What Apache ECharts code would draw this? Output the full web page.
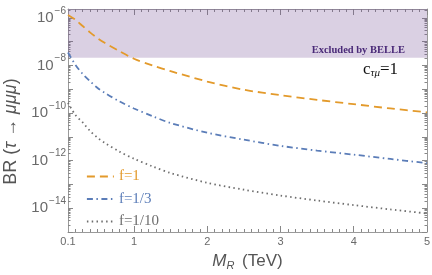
<!DOCTYPE html>
<html><head><meta charset="utf-8">
<script src="https://cdn.jsdelivr.net/npm/echarts@6/dist/echarts.min.js"></script>
<style>html,body{margin:0;padding:0;background:#fff}#c{width:432px;height:275px}</style>
</head><body><div id="c"></div>
<script>
// ---- data ----
const M_TEV = [0.1,0.2,0.3,0.4,0.5,0.6,0.8,1.0,1.25,1.5,2,2.5,3,3.5,4,4.5,5];
const BR_F1 = [1.32e-6,8.3e-7,4.5e-7,2.45e-7,1.41e-7,8.9e-8,4.0e-8,1.9e-8,1.0e-8,5.75e-9,2.1e-9,9.5e-10,5.6e-10,3.55e-10,2.35e-10,1.55e-10,1.07e-10];
const BR_F13 = [3.47e-8,1.07e-8,4.37e-9,2.19e-9,1.15e-9,7.1e-10,3.1e-10,1.55e-10,7.4e-11,3.8e-11,1.48e-11,7.6e-12,4.17e-12,2.63e-12,1.78e-12,1.17e-12,7.8e-13];
const BR_F110 = [2.69e-10,8.3e-11,4.0e-11,1.78e-11,9.3e-12,5.6e-12,2.4e-12,1.2e-12,5.75e-13,3.0e-13,1.17e-13,6.0e-14,3.4e-14,2.1e-14,1.35e-14,8.9e-15,6.0e-15];
const SERIES_NAMES = ['f=1','f=1/3','f=1/10'];
const BELLE_LIMIT = 2.1e-8;
const X_MIN = 0.1, X_MAX = 5;
const Y_MIN = 1e-15, Y_MAX = 2.34e-6;
const X_LABELS = [0.1,1,2,3,4,5];
const X_MAJOR = [1,2,3,4,5];
const Y_LABEL_EXP = [-6,-8,-10,-12,-14];
const Y_DECADES = [-15,-14,-13,-12,-11,-10,-9,-8,-7,-6];

// ---- derived tick positions ----
const LOG_MIN = Math.log10(Y_MIN), LOG_MAX = Math.log10(Y_MAX);
const X_MINOR = [];
for (let i = 2; i <= 50; i++) { if (i % 10 !== 0) X_MINOR.push(i / 10); }
const Y_MINOR = [];
Y_DECADES.forEach(e => { for (let k = 2; k <= 9; k++) { const v = e + Math.log10(k); if (v < LOG_MAX) Y_MINOR.push(v); } });

const ORANGE = '#E39A2B', BLUE = '#5B7DB8', GRAY = '#6E6E6E';
const AX = '#9a9a9a', TK = '#888888', LBL = '#6a6a6a';
const SANS = 'Liberation Sans', SERIF = 'Liberation Serif';
const DASH_F1 = [8, 5], DASH_F13 = [6, 3.5, 1.5, 3.5], DASH_F110 = [1.5, 3.3];

const toPairs = arr => M_TEV.map((m, i) => [m, arr[i]]);

function xHelper(pos, vals, len, line) {
  return { type: 'value', position: pos, min: X_MIN, max: X_MAX,
    axisLine: { show: line, onZero: false, lineStyle: { color: AX } },
    axisTick: { show: true, inside: true, length: len, customValues: vals, lineStyle: { color: TK } },
    axisLabel: { show: false }, splitLine: { show: false } };
}
function yHelper(pos, vals, len, line) {
  return { type: 'value', position: pos, min: LOG_MIN, max: LOG_MAX,
    axisLine: { show: line, onZero: false, lineStyle: { color: AX } },
    axisTick: { show: true, inside: true, length: len, customValues: vals, lineStyle: { color: TK } },
    axisLabel: { show: false }, splitLine: { show: false } };
}

const chart = echarts.init(document.getElementById('c'), null, { renderer: 'canvas' });
chart.setOption({
  animation: false,
  grid: { left: 68, right: 5, top: 9, bottom: 43, containLabel: false, outerBoundsMode: 'none' },
  xAxis: [
    { type: 'value', position: 'bottom', min: X_MIN, max: X_MAX,
      name: '{i|M}{s|R}{a| (TeV)}', nameLocation: 'middle', nameGap: 20,
      nameTextStyle: { color: '#555', fontFamily: SANS, fontSize: 17,
        rich: { i: { fontStyle: 'italic', fontSize: 17, color: '#555', fontFamily: SANS, verticalAlign: 'middle' },
                s: { fontStyle: 'italic', fontSize: 11, color: '#555', fontFamily: SANS, padding: [8, 3, 0, 0], verticalAlign: 'middle' },
                a: { fontSize: 17, color: '#555', fontFamily: SANS, verticalAlign: 'middle' } } },
      axisLine: { show: true, onZero: false, lineStyle: { color: AX } },
      axisTick: { show: true, inside: true, length: 6, customValues: X_MAJOR, lineStyle: { color: TK } },
      axisLabel: { customValues: X_LABELS, color: LBL, fontFamily: SANS, fontSize: 11, margin: 4 },
      splitLine: { show: false } },
    xHelper('bottom', X_MINOR, 3, false),
    xHelper('top', X_MAJOR, 6, true),
    xHelper('top', X_MINOR, 3, false)
  ],
  yAxis: [
    { type: 'log', position: 'left', min: Y_MIN, max: Y_MAX,
      name: '{a|BR (}{i|τ}{a| → }{i|μμμ}{a|)}', nameLocation: 'middle', nameGap: 40,
      nameTextStyle: { color: '#555', fontFamily: SANS, fontSize: 18, padding: [0, 22, 0, 0],
        rich: { a: { fontSize: 18, color: '#555', fontFamily: SANS }, i: { fontSize: 18, color: '#555', fontFamily: SANS, fontStyle: 'italic' } } },
      axisLine: { show: true, onZero: false, lineStyle: { color: AX } },
      axisTick: { show: false },
      axisLabel: { color: LBL, margin: 2,
        formatter: function (v) {
          const lg = Math.log10(v), e = Math.round(lg);
          if (Math.abs(lg - e) > 1e-6 || Y_LABEL_EXP.indexOf(e) < 0) return '';
          return '{b|10}{s|\u2212' + Math.abs(e) + '}';
        },
        rich: { b: { fontSize: 15, color: LBL, fontFamily: SANS, verticalAlign: 'middle' },
                s: { fontSize: 10, color: LBL, fontFamily: SANS, padding: [0, 0, 14, 1], verticalAlign: 'middle' } } },
      splitLine: { show: false } },
    yHelper('left', Y_DECADES, 5, false),
    yHelper('left', Y_MINOR, 2.5, false),
    yHelper('right', Y_DECADES, 5, true),
    yHelper('right', Y_MINOR, 2.5, false)
  ],
  legend: {
    orient: 'vertical', left: 81, top: 164, itemWidth: 27, itemHeight: 14, itemGap: 7.5,
    itemStyle: { opacity: 0 },
    textStyle: { fontFamily: SERIF, fontSize: 15, lineHeight: 14 },
    data: [
      { name: SERIES_NAMES[0], textStyle: { color: ORANGE }, lineStyle: { type: DASH_F1, width: 1.8 } },
      { name: SERIES_NAMES[1], textStyle: { color: BLUE }, lineStyle: { type: DASH_F13, width: 1.8 } },
      { name: SERIES_NAMES[2], textStyle: { color: GRAY }, lineStyle: { type: DASH_F110, width: 1.8 } }
    ]
  },
  series: [
    { name: SERIES_NAMES[0], type: 'line', data: toPairs(BR_F1), smooth: 0.3, symbol: 'none',
      lineStyle: { color: ORANGE, width: 1.8, type: DASH_F1 }, itemStyle: { color: ORANGE },
      markArea: { silent: true, itemStyle: { color: 'rgba(120,80,150,0.27)' },
        label: { show: true, position: 'insideBottomRight', formatter: 'Excluded by BELLE', distance: 0,
          offset: [-22, -2], color: '#4a2a78', fontFamily: SERIF, fontWeight: 'bold', fontSize: 10.5 },
        data: [[{ yAxis: BELLE_LIMIT }, { yAxis: Y_MAX }]] },
      markLine: { silent: true, symbol: 'none', label: { show: false },
        lineStyle: { color: '#9478aa', width: 1.3, type: 'solid' }, data: [{ yAxis: BELLE_LIMIT }] } },
    { name: SERIES_NAMES[1], type: 'line', data: toPairs(BR_F13), smooth: 0.3, symbol: 'none',
      lineStyle: { color: BLUE, width: 1.8, type: DASH_F13 }, itemStyle: { color: BLUE } },
    { name: SERIES_NAMES[2], type: 'line', data: toPairs(BR_F110), smooth: 0.3, symbol: 'none',
      lineStyle: { color: GRAY, width: 1.8, type: DASH_F110 }, itemStyle: { color: GRAY } }
  ],
  graphic: [
    { type: 'text', left: 363, top: 61, z: 10,
      style: { text: '{c|c}{s|τμ}{c|=1}', fill: '#111',
        rich: { c: { fontFamily: SERIF, fontSize: 17, fill: '#111', verticalAlign: 'middle' },
                s: { fontFamily: SERIF, fontSize: 11, fontStyle: 'italic', fill: '#111', padding: [8, 0, 0, 0], verticalAlign: 'middle' } } } }
  ]
});
</script></body></html>
